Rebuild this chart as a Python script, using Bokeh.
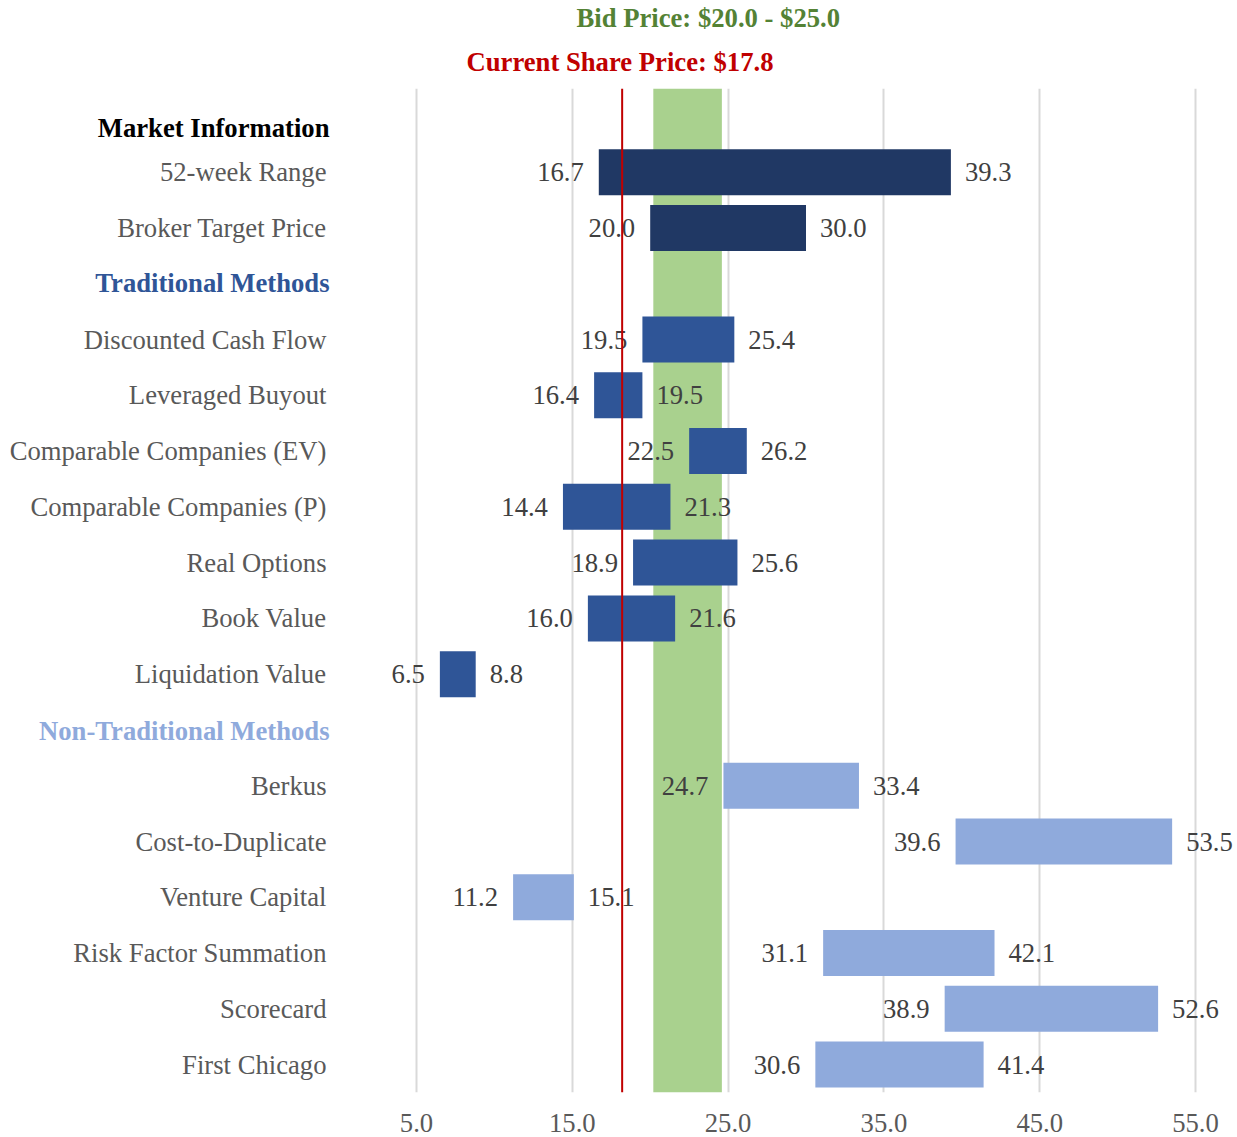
from bokeh.plotting import figure
from bokeh.models import (ColumnDataSource, FactorRange, Range1d, Span, BoxAnnotation,
                          FixedTicker, NumeralTickFormatter, Title)
from bokeh.core.properties import value
from bokeh.embed import file_html
from bokeh.resources import INLINE

# ---------------- data ----------------
rows = ["Market Information", "52-week Range", "Broker Target Price",
        "Traditional Methods", "Discounted Cash Flow", "Leveraged Buyout",
        "Comparable Companies (EV)", "Comparable Companies (P)", "Real Options",
        "Book Value", "Liquidation Value",
        "Non-Traditional Methods", "Berkus", "Cost-to-Duplicate", "Venture Capital",
        "Risk Factor Summation", "Scorecard", "First Chicago"]

headers = ["Market Information", "Traditional Methods", "Non-Traditional Methods"]
header_colors = ["#000000", "#2F5597", "#8FAADC"]

bar_names = ["52-week Range", "Broker Target Price",
             "Discounted Cash Flow", "Leveraged Buyout", "Comparable Companies (EV)",
             "Comparable Companies (P)", "Real Options", "Book Value", "Liquidation Value",
             "Berkus", "Cost-to-Duplicate", "Venture Capital", "Risk Factor Summation",
             "Scorecard", "First Chicago"]
bar_low = [16.7, 20.0, 19.5, 16.4, 22.5, 14.4, 18.9, 16.0, 6.5,
           24.7, 39.6, 11.2, 31.1, 38.9, 30.6]
bar_high = [39.3, 30.0, 25.4, 19.5, 26.2, 21.3, 25.6, 21.6, 8.8,
            33.4, 53.5, 15.1, 42.1, 52.6, 41.4]
bar_group = ["market"] * 2 + ["traditional"] * 7 + ["nontraditional"] * 6
group_colors = {"market": "#203864", "traditional": "#2F5597", "nontraditional": "#8FAADC"}

bid_low, bid_high = 20.0, 25.0
bid_band = (20.2, 24.6)          # band as drawn in the picture
current_price = 17.8
current_price_marker = 18.2      # line as drawn in the picture

tick_values = [5, 15, 25, 35, 45, 55]

# ---------------- styling ----------------
header_nudge = [12, -1, 1]       # screen px vertical nudge of header labels
W, H = 1237, 1137
PX_PER_UNIT = (1195 - 416) / 50.0
X_START = 5 - 416 / PX_PER_UNIT
X_END = 5 + (W - 416) / PX_PER_UNIT
FONT = "Liberation Serif"
FS = "26.67px"

p = figure(width=W, height=H, output_backend="svg", toolbar_location=None,
           title=None,
           x_range=Range1d(X_START, X_END),
           y_range=FactorRange(factors=list(reversed(rows)), range_padding=0.0),
           min_border_left=0, min_border_right=0, min_border_top=88, min_border_bottom=45)
p.outline_line_color = None
p.background_fill_color = "white"
p.border_fill_color = "white"
p.yaxis.visible = False
p.ygrid.grid_line_color = None

p.xaxis.ticker = FixedTicker(ticks=tick_values)
p.xaxis.formatter = NumeralTickFormatter(format="0.0")
p.xaxis.axis_line_color = None
p.xaxis.major_tick_line_color = None
p.xaxis.minor_tick_line_color = None
p.xaxis.major_label_text_font = FONT
p.xaxis.major_label_text_font_size = FS
p.xaxis.major_label_text_color = "#595959"
p.xaxis.major_label_standoff = 15
p.xgrid.ticker = FixedTicker(ticks=tick_values)
p.xgrid.grid_line_color = "#D9D9D9"
p.xgrid.grid_line_width = 2

band = BoxAnnotation(left=bid_band[0], right=bid_band[1], fill_color="#A9D18E",
                     fill_alpha=1.0, line_color=None, level="underlay")
p.add_layout(band)

bars = ColumnDataSource(dict(
    name=bar_names, low=bar_low, high=bar_high,
    color=[group_colors[g] for g in bar_group],
    low_txt=[f"{v:.1f}" for v in bar_low], high_txt=[f"{v:.1f}" for v in bar_high],
))
p.hbar(y="name", left="low", right="high", height=0.825, fill_color="color",
       line_color=None, source=bars)

p.add_layout(Span(location=current_price_marker, dimension="height",
                  line_color="#C00000", line_width=2))

p.text(x="low", y="name", text="low_txt", source=bars, text_align="right",
       text_baseline="middle", x_offset=-15, text_font=value(FONT),
       text_font_size=FS, text_color="#404040")
p.text(x="high", y="name", text="high_txt", source=bars, text_align="left",
       text_baseline="middle", x_offset=14, text_font=value(FONT),
       text_font_size=FS, text_color="#404040")

# row labels
plain = [r for r in rows if r not in headers]
lab_src = ColumnDataSource(dict(name=plain, x=[X_START] * len(plain)))
p.text(x="x", y="name", text="name", source=lab_src, text_align="right",
       text_baseline="middle", x_offset=326, text_font=value(FONT),
       text_font_size=FS, text_color="#595959")
hdr_src = ColumnDataSource(dict(name=headers, x=[X_START] * len(headers),
                                color=header_colors, dy=header_nudge))
p.text(x="x", y="name", text="name", source=hdr_src, text_align="right",
       text_baseline="middle", x_offset=329, y_offset="dy", text_font=value(FONT),
       text_font_size=FS, text_font_style="bold", text_color="color")

# titles (first added sits closest to the plot)
price_title = Title(text=f"Current Share Price: ${current_price:.1f}", align="left",
                    offset=466, text_font=FONT, text_font_size=FS,
                    text_font_style="bold", text_color="#C00000", standoff=23)
bid_title = Title(text=f"Bid Price: ${bid_low:.1f} - ${bid_high:.1f}", align="left",
                  offset=576, text_font=FONT, text_font_size=FS,
                  text_font_style="bold", text_color="#548235", standoff=1)
p.add_layout(price_title, "above")
p.add_layout(bid_title, "above")

open("out.html", "w").write(file_html(p, INLINE))
